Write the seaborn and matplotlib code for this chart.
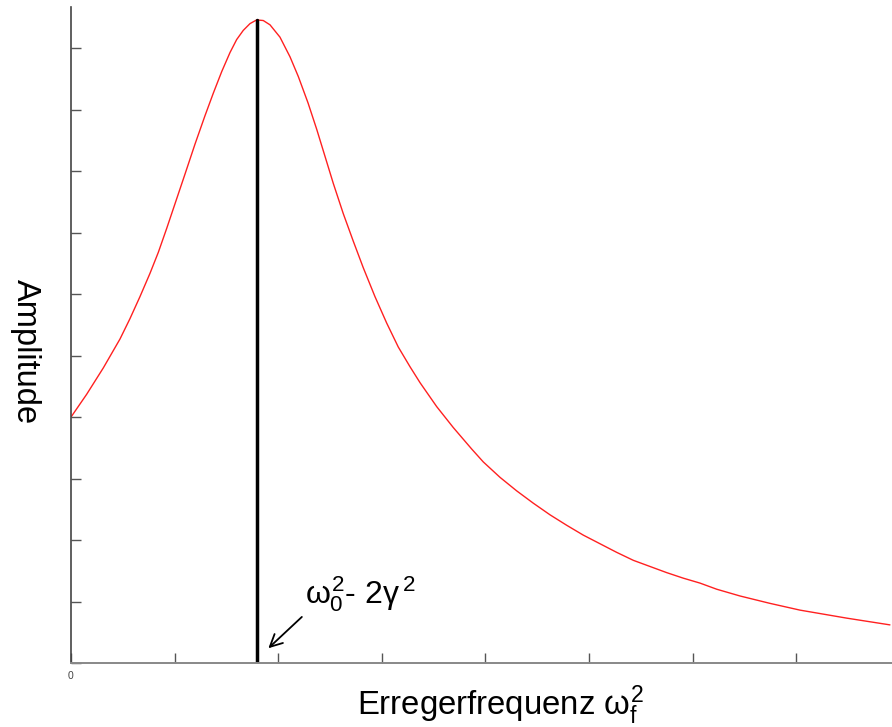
import numpy as np
import pandas as pd
import seaborn as sns
import matplotlib
matplotlib.use('Agg')
import matplotlib.pyplot as plt

# Values (x and y in tick units)
freq = [0.0, 0.151, 0.312, 0.473, 0.569, 0.666, 0.763, 0.843, 0.924, 1.004,
        1.100, 1.197, 1.293, 1.374, 1.455, 1.535, 1.599, 1.663, 1.728, 1.792,
        1.856, 1.921, 2.017, 2.114, 2.194, 2.288, 2.372, 2.452, 2.532, 2.628,
        2.725, 2.821, 2.934, 3.047, 3.159, 3.272, 3.369, 3.530, 3.690, 3.868,
        3.980, 4.141, 4.302, 4.462, 4.624, 4.785, 4.945, 5.106, 5.267, 5.428,
        5.589, 5.750, 5.910, 6.071, 6.233, 6.458, 6.747, 7.037, 7.487, 7.905]
amplitude = [4.00, 4.37, 4.80, 5.27, 5.60, 5.96, 6.34, 6.68, 7.07, 7.47,
             7.95, 8.44, 8.90, 9.27, 9.62, 9.93, 10.14, 10.29, 10.40, 10.46,
             10.45, 10.38, 10.18, 9.86, 9.54, 9.11, 8.68, 8.24, 7.80, 7.31,
             6.86, 6.43, 5.96, 5.53, 5.14, 4.82, 4.56, 4.17, 3.83, 3.48,
             3.27, 3.02, 2.80, 2.60, 2.41, 2.24, 2.08, 1.94, 1.80, 1.67,
             1.57, 1.47, 1.38, 1.30, 1.20, 1.09, 0.97, 0.86, 0.73, 0.62]
peak_x = 1.80
peak_y = 10.46

LBF_X = 23.7  # x label font size
LBF_Y = 23.5  # y label font size
ANF = 23      # annotation font size

sns.set_style('white')
plt.rcParams['font.family'] = ['Liberation Sans', 'DejaVu Sans']
plt.rcParams['mathtext.fontset'] = 'custom'
plt.rcParams['mathtext.rm'] = 'Liberation Sans'
plt.rcParams['mathtext.it'] = 'Liberation Sans'
plt.rcParams['text.color'] = 'black'

data = pd.DataFrame({'freq': freq, 'amp': amplitude})

fig = plt.figure(figsize=(8.92, 7.27), dpi=100)
ax = fig.add_axes([71/892, 64/727, 1 - 71/892, (663 - 7)/727])

sns.lineplot(data=data, x='freq', y='amp', color='#ff2020', lw=1.0, ax=ax)
ax.plot([peak_x, peak_x], [0, peak_y], color='black', lw=2.5)

ax.set_xlim(0, 7.925)
ax.set_ylim(0, 10.67)
ax.set_xticks(np.arange(0, 8))
ax.set_xticklabels(['0'] + [''] * 7)
ax.set_yticks(np.arange(0, 11))
ax.set_yticklabels([''] * 11)
ax.tick_params(bottom=True, left=True, direction='in', length=7, width=1,
               colors='#555555', labelsize=7.5, pad=6)
ax.tick_params(axis='x', labelcolor='#444444')

for side in ['top', 'right']:
    ax.spines[side].set_visible(False)
ax.spines['left'].set_color('#444444')
ax.spines['bottom'].set_color('#888888')
ax.spines['left'].set_linewidth(1.2)
ax.spines['bottom'].set_linewidth(1.4)

ax.set_xlabel(r'Erregerfrequenz $\omega_f^2$', fontsize=LBF_X, color='black')
ax.xaxis.set_label_coords(0.523, -0.079)
ax.xaxis.label.set_va('baseline')
ax.set_ylabel('Amplitude', fontsize=LBF_Y, color='black', rotation=270)
ax.yaxis.set_label_coords(-0.056, 0.474)
ax.yaxis.label.set_va('center')

ax.annotate(r'$\omega_0^2$- 2$\gamma\,^2$', xy=(1.905, 0.24), xytext=(2.26, 0.97),
            fontsize=ANF, va='baseline', ha='left', color='black',
            arrowprops=dict(arrowstyle='->', color='black', lw=1.3,
                            mutation_scale=22, shrinkA=0, shrinkB=0,
                            relpos=(0.0, 0.0)))

plt.savefig('out.png', dpi=100)
